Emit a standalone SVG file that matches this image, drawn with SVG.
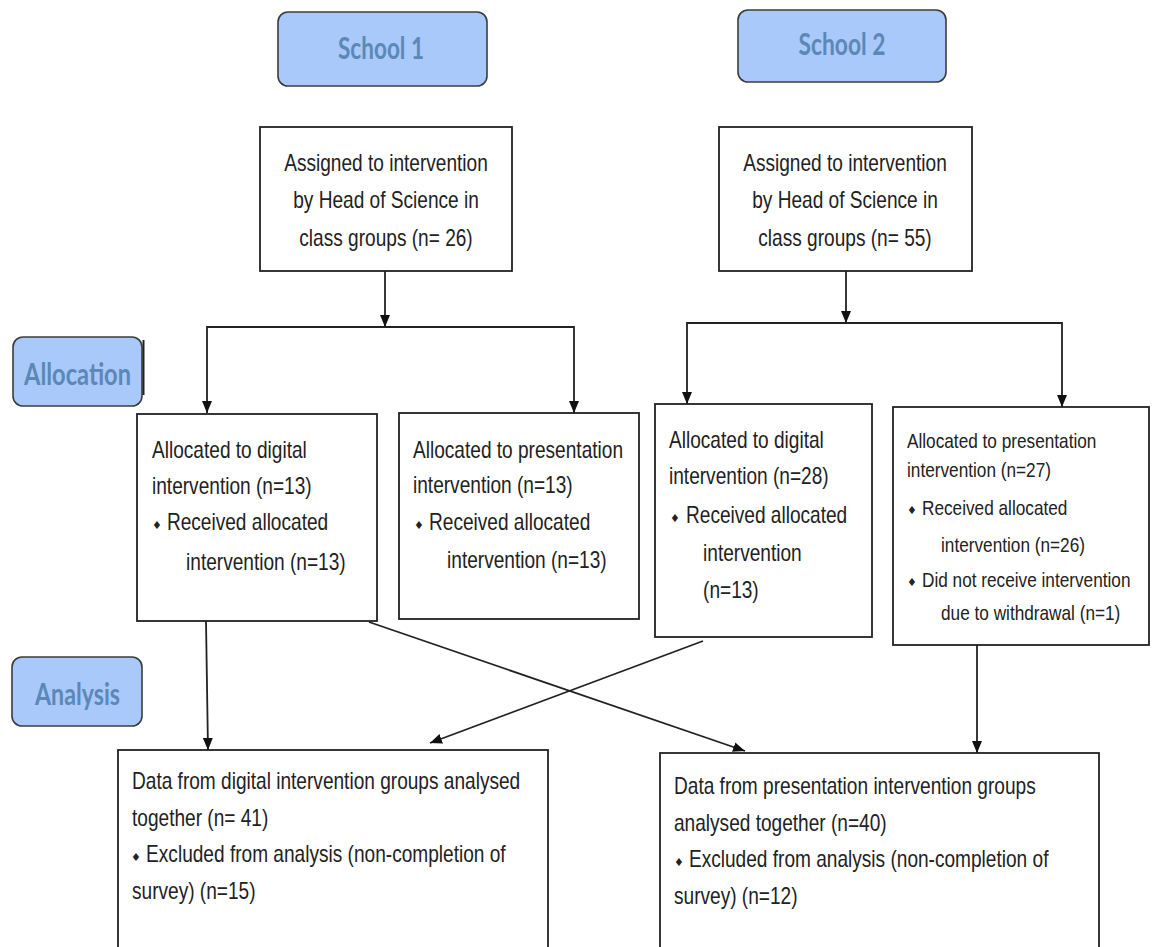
<svg xmlns="http://www.w3.org/2000/svg" width="1155" height="947" viewBox="0 0 1155 947">
<style>
.hb{fill:#a9c9fb;stroke:#3c3c3c;stroke-width:1.6}
.ht{font-family:Lato,"Open Sans",sans-serif;font-weight:700;font-size:30px;fill:#5b88b6}
.hm{text-anchor:middle}
.bx{fill:#fff;stroke:#222;stroke-width:1.8}
.t{font-family:"Liberation Sans",Arial,sans-serif;font-size:23px;fill:#222}
.s{font-size:21px}
.c{text-anchor:middle}
.b{font-family:"DejaVu Sans",sans-serif;font-size:11px;fill:#222;text-anchor:middle}
.ln{fill:none;stroke:#222;stroke-width:1.8}
</style>
<defs>
<marker id="ah" viewBox="0 0 12 10" refX="12" refY="5" markerWidth="12" markerHeight="11" markerUnits="userSpaceOnUse" orient="auto">
<path d="M0,0 L12,5 L0,10 z" fill="#111"/>
</marker>
</defs>
<rect width="1155" height="947" fill="#fff"/>

<g id="school1">
<rect class="hb" x="278" y="12" width="209" height="74" rx="10"/>
<text class="ht hm" x="381" y="59" font-size="28" textLength="86" lengthAdjust="spacingAndGlyphs">School 1</text>
</g>
<g id="school2">
<rect class="hb" x="738" y="10" width="208" height="72" rx="10"/>
<text class="ht hm" x="842" y="55" font-size="28" textLength="87" lengthAdjust="spacingAndGlyphs">School 2</text>
</g>
<g id="allocation">
<rect class="hb" x="13" y="337" width="129" height="69" rx="10"/>
<line x1="143.5" y1="340" x2="143.5" y2="395" stroke="#222" stroke-width="2"/>
<text class="ht hm" x="77.5" y="385" textLength="107" lengthAdjust="spacingAndGlyphs">Allocation</text>
</g>
<g id="analysis">
<rect class="hb" x="12" y="657" width="130" height="69" rx="10"/>
<text class="ht hm" x="77.5" y="705" textLength="85" lengthAdjust="spacingAndGlyphs">Analysis</text>
</g>

<g id="assign1">
<rect class="bx" x="260" y="127" width="252" height="144"/>
<g transform="translate(386 0) scale(0.83 1)">
<text class="t c" x="0" y="171">Assigned to intervention</text>
<text class="t c" x="0" y="208">by Head of Science in</text>
<text class="t c" x="0" y="246">class groups (n= 26)</text>
</g>
</g>
<g id="assign2">
<rect class="bx" x="719" y="127" width="253" height="144"/>
<g transform="translate(845 0) scale(0.83 1)">
<text class="t c" x="0" y="171">Assigned to intervention</text>
<text class="t c" x="0" y="208">by Head of Science in</text>
<text class="t c" x="0" y="246">class groups (n= 55)</text>
</g>
</g>

<g id="digital1">
<rect class="bx" x="137" y="414" width="240" height="207"/>
<text class="b" x="157" y="529">♦</text>
<g transform="translate(152 0) scale(0.83 1)">
<text class="t" x="0" y="458">Allocated to digital</text>
<text class="t" x="0" y="494">intervention (n=13)</text>
<text class="t" x="18" y="530">Received allocated</text>
<text class="t" x="41" y="570">intervention (n=13)</text>
</g>
</g>
<g id="presentation1">
<rect class="bx" x="399" y="413" width="240" height="206"/>
<text class="b" x="419" y="529">♦</text>
<g transform="translate(413 0) scale(0.83 1)">
<text class="t" x="0" y="458">Allocated to presentation</text>
<text class="t" x="0" y="493">intervention (n=13)</text>
<text class="t" x="19.3" y="530">Received allocated</text>
<text class="t" x="41" y="568">intervention (n=13)</text>
</g>
</g>
<g id="digital2">
<rect class="bx" x="655" y="404" width="217" height="233"/>
<text class="b" x="675" y="522">♦</text>
<g transform="translate(669 0) scale(0.83 1)">
<text class="t" x="0" y="448">Allocated to digital</text>
<text class="t" x="0" y="484">intervention (n=28)</text>
<text class="t" x="20.5" y="523">Received allocated</text>
<text class="t" x="41" y="561">intervention</text>
<text class="t" x="41" y="598">(n=13)</text>
</g>
</g>
<g id="presentation2">
<rect class="bx" x="893" y="407" width="256" height="238"/>
<text class="b" x="912" y="514">♦</text>
<text class="b" x="912" y="586">♦</text>
<g transform="translate(907 0) scale(0.82 1)">
<text class="t s" x="0" y="448">Allocated to presentation</text>
<text class="t s" x="0" y="477">intervention (n=27)</text>
<text class="t s" x="18.3" y="515">Received allocated</text>
<text class="t s" x="41.5" y="552">intervention (n=26)</text>
<text class="t s" x="18.3" y="587">Did not receive intervention</text>
<text class="t s" x="41.5" y="620">due to withdrawal (n=1)</text>
</g>
</g>

<g id="analysisDigital">
<rect class="bx" x="118" y="750" width="430" height="220"/>
<text class="b" x="136" y="861">♦</text>
<g transform="translate(132 0) scale(0.83 1)">
<text class="t" x="0" y="789">Data from digital intervention groups analysed</text>
<text class="t" x="0" y="826">together (n= 41)</text>
<text class="t" x="17" y="862">Excluded from analysis (non-completion of</text>
<text class="t" x="0" y="899">survey) (n=15)</text>
</g>
</g>
<g id="analysisPresentation">
<rect class="bx" x="660" y="753" width="439" height="220"/>
<text class="b" x="679" y="866">♦</text>
<g transform="translate(674 0) scale(0.83 1)">
<text class="t" x="0" y="794">Data from presentation intervention groups</text>
<text class="t" x="0" y="831">analysed together (n=40)</text>
<text class="t" x="18" y="867">Excluded from analysis (non-completion of</text>
<text class="t" x="0" y="904">survey) (n=12)</text>
</g>
</g>

<g id="connectors">
<path class="ln" d="M385,271 V327" marker-end="url(#ah)"/>
<path class="ln" d="M385,327 H207 V413" marker-end="url(#ah)"/>
<path class="ln" d="M385,327 H574 V413" marker-end="url(#ah)"/>
<path class="ln" d="M846,271 V323" marker-end="url(#ah)"/>
<path class="ln" d="M846,323 H687 V404" marker-end="url(#ah)"/>
<path class="ln" d="M846,323 H1062 V407" marker-end="url(#ah)"/>
<path class="ln" d="M206,621 L208,750" marker-end="url(#ah)"/>
<path class="ln" d="M369,622 L745,751" marker-end="url(#ah)"/>
<path class="ln" d="M703,641 L430,743" marker-end="url(#ah)"/>
<path class="ln" d="M977,645 V753" marker-end="url(#ah)"/>
</g>
</svg>
